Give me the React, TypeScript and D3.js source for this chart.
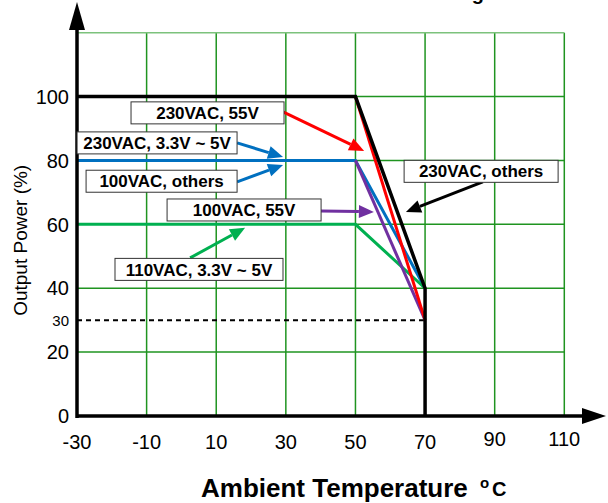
import React, { useEffect, useRef } from "react";
import * as d3 from "d3";

// series: ambient temperature (°C) and output power (%)
const blackTemp = [-30, 50, 70, 70];
const blackPower = [100, 100, 40, 0];
const redTemp = [50, 70];
const redPower = [100, 30];
const blueTemp = [-30, 50, 70];
const bluePower = [80, 80, 40];
const purpleTemp = [50, 70];
const purplePower = [80, 30];
const greenTemp = [-30, 50, 70];
const greenPower = [60, 60, 40];
const dottedTemp = [-30, 70];
const dottedPower = [30, 30];

const xTicks = [-30, -10, 10, 30, 50, 70, 90, 110];
const yTicks = [0, 20, 30, 40, 60, 80, 100];
const xGrid = [-10, 10, 30, 50, 70, 90, 110];
const yGrid = [20, 40, 60, 80, 100, 120];

// annotation labels, anchored in data units
const labels = ["230VAC, 55V", "230VAC, 3.3V ~ 5V", "100VAC, others", "100VAC, 55V", "230VAC, others", "110VAC, 3.3V ~ 5V"];
const labelCx = [7.5, -7.0, -5.7, 18.0, 86.1, 5.05];
const labelCy = [94.9, 85.5, 73.5, 64.5, 76.6, 45.9];
const arrowFromX = [29.2, 16.0, 16.0, 40.1, 86.6, 2.5];
const arrowFromY = [95.2, 85.5, 73.3, 64.2, 73.3, 49.5];
const arrowToX = [52.5, 29.2, 29.2, 55.3, 64.5, 18.3];
const arrowToY = [83.0, 81.1, 78.6, 63.9, 63.9, 58.9];
const labelColors = ["#ff0000", "#0070c0", "#0070c0", "#7030a0", "#000000", "#00b050"];
const boxWidths = [153, 160, 151, 154, 154, 168];

const FONT = "'Liberation Sans', Arial, sans-serif";

export default function App() {
  const ref = useRef<SVGSVGElement>(null);

  useEffect(() => {
    const svg = d3.select(ref.current);
    svg.selectAll("*").remove();

    const x = d3.scaleLinear().domain([-30, 110]).range([77, 564.3]);
    const y = d3.scaleLinear().domain([0, 120]).range([416, 32.7]);

    // grid
    svg
      .append("g")
      .selectAll("line")
      .data(xGrid)
      .enter()
      .append("line")
      .attr("x1", (d) => x(d))
      .attr("x2", (d) => x(d))
      .attr("y1", y(0))
      .attr("y2", y(120))
      .attr("stroke", "#1f9420")
      .attr("stroke-width", 1.5);
    svg
      .append("g")
      .selectAll("line")
      .data(yGrid)
      .enter()
      .append("line")
      .attr("x1", x(-30))
      .attr("x2", x(110))
      .attr("y1", (d) => y(d))
      .attr("y2", (d) => y(d))
      .attr("stroke", (d) => (d === 120 ? "#7cc27c" : "#1f9420"))
      .attr("stroke-width", 1.5);

    const line = d3
      .line<[number, number]>()
      .x((d) => x(d[0]))
      .y((d) => y(d[1]));
    const pts = (t: number[], p: number[]) => t.map((v, i) => [v, p[i]] as [number, number]);

    // dotted 30% line
    svg
      .append("path")
      .attr("d", line(pts(dottedTemp, dottedPower)))
      .attr("fill", "none")
      .attr("stroke", "#000")
      .attr("stroke-width", 2)
      .attr("stroke-dasharray", "5,4");

    const series = [
      { t: blueTemp, p: bluePower, c: "#0070c0", w: 3 },
      { t: greenTemp, p: greenPower, c: "#00b050", w: 3 },
      { t: purpleTemp, p: purplePower, c: "#7030a0", w: 3 },
      { t: redTemp, p: redPower, c: "#ff0000", w: 3 },
      { t: blackTemp, p: blackPower, c: "#000000", w: 3.5 },
    ];
    series.forEach((s) => {
      svg
        .append("path")
        .attr("d", line(pts(s.t, s.p)))
        .attr("fill", "none")
        .attr("stroke", s.c)
        .attr("stroke-width", s.w)
        .attr("stroke-linejoin", "miter");
    });

    // axes
    svg
      .append("line")
      .attr("x1", x(-30))
      .attr("x2", 590)
      .attr("y1", y(0))
      .attr("y2", y(0))
      .attr("stroke", "#000")
      .attr("stroke-width", 3.5);
    svg
      .append("path")
      .attr("d", `M582,${y(0) - 8}L606,${y(0)}L582,${y(0) + 8}Z`)
      .attr("fill", "#000");
    svg
      .append("line")
      .attr("x1", x(-30))
      .attr("x2", x(-30))
      .attr("y1", y(0) + 2)
      .attr("y2", 20)
      .attr("stroke", "#000")
      .attr("stroke-width", 3.5);
    svg
      .append("path")
      .attr("d", `M${x(-30) - 8},30L${x(-30)},2L${x(-30) + 8},30Z`)
      .attr("fill", "#000");

    // tick labels
    svg
      .append("g")
      .selectAll("text")
      .data(yTicks)
      .enter()
      .append("text")
      .attr("x", 69)
      .attr("y", (d) => y(d))
      .attr("dy", "0.36em")
      .attr("text-anchor", "end")
      .attr("font-family", FONT)
      .attr("font-size", (d) => (d === 30 ? 15 : 20))
      .text((d) => d);
    svg
      .append("g")
      .selectAll("text")
      .data(xTicks)
      .enter()
      .append("text")
      .attr("x", (d) => x(d))
      .attr("y", (d) => (d >= 90 ? 446 : 449))
      .attr("text-anchor", "middle")
      .attr("font-family", FONT)
      .attr("font-size", 20)
      .text((d) => d);

    // axis titles
    svg
      .append("text")
      .attr("transform", `translate(27,${y(55)}) rotate(-90)`)
      .attr("text-anchor", "middle")
      .attr("font-family", FONT)
      .attr("font-size", 19)
      .text("Output Power (%)");
    svg
      .append("text")
      .attr("x", 201)
      .attr("y", 497)
      .attr("font-family", FONT)
      .attr("font-weight", "bold")
      .attr("font-size", 26)
      .text("Ambient Temperature");
    svg
      .append("text")
      .attr("x", 480)
      .attr("y", 488)
      .attr("font-family", FONT)
      .attr("font-weight", "bold")
      .attr("font-size", 15)
      .text("o");
    svg
      .append("text")
      .attr("x", 492)
      .attr("y", 496)
      .attr("font-family", FONT)
      .attr("font-weight", "bold")
      .attr("font-size", 20)
      .text("C");

    // title, cut off at the top edge (only the descender shows)
    svg
      .append("text")
      .attr("x", 484)
      .attr("y", -0.5)
      .attr("text-anchor", "end")
      .attr("font-family", FONT)
      .attr("font-weight", "bold")
      .attr("font-size", 20)
      .text("Derating");

    // annotations
    labels.forEach((txt, i) => {
      const x0 = x(arrowFromX[i]);
      const y0 = y(arrowFromY[i]);
      const x1 = x(arrowToX[i]);
      const y1 = y(arrowToY[i]);
      const ang = Math.atan2(y1 - y0, x1 - x0);
      const len = 15;
      const hw = 6.5;
      const bx = x1 - len * Math.cos(ang);
      const by = y1 - len * Math.sin(ang);
      const nx = -Math.sin(ang) * hw;
      const ny = Math.cos(ang) * hw;
      svg
        .append("line")
        .attr("x1", x0)
        .attr("y1", y0)
        .attr("x2", bx)
        .attr("y2", by)
        .attr("stroke", labelColors[i])
        .attr("stroke-width", 3);
      svg
        .append("path")
        .attr("d", `M${x1},${y1}L${bx + nx},${by + ny}L${bx - nx},${by - ny}Z`)
        .attr("fill", labelColors[i]);

      const cx = x(labelCx[i]);
      const cy = y(labelCy[i]);
      const w = boxWidths[i];
      svg
        .append("rect")
        .attr("x", cx - w / 2)
        .attr("y", cy - 11)
        .attr("width", w)
        .attr("height", 22)
        .attr("fill", "#fff")
        .attr("stroke", "#333")
        .attr("stroke-width", 1);
      svg
        .append("text")
        .attr("x", cx)
        .attr("y", cy)
        .attr("dy", "0.36em")
        .attr("text-anchor", "middle")
        .attr("font-family", FONT)
        .attr("font-weight", "bold")
        .attr("font-size", 17)
        .text(txt);
    });
  }, []);

  return (
    <svg
      ref={ref}
      width={608}
      height={503}
      style={{ position: "absolute", left: 0, top: 0, background: "#fff" }}
    />
  );
}
